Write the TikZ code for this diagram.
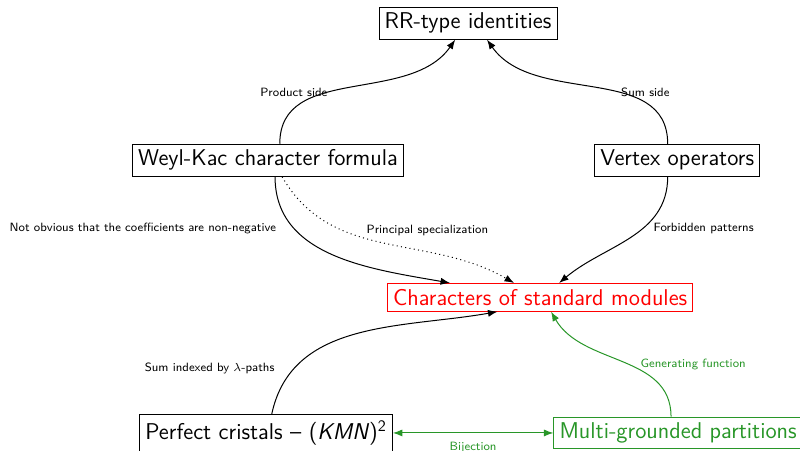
\documentclass[tikz,border=0pt]{standalone}
\usepackage{amsmath}
\usepackage{xcolor}
\usepackage{tikz}
\usetikzlibrary{arrows.meta, positioning, calc}
\renewcommand{\familydefault}{\sfdefault}
\definecolor{mgreen}{RGB}{40,150,40}
\tikzset{
    box/.style={draw, font=\fontsize{13.7}{16}\selectfont\sffamily, inner sep=3.4pt},
    lbl/.style={font=\fontsize{7.2}{9}\selectfont\sffamily, midway},
    gbox/.style={box, draw=mgreen, text=mgreen},
    rbox/.style={box, draw=red, text=red},
}

\begin{document}
\begin{tikzpicture}[>=Latex, semithick]
    \useasboundingbox (0,0) rectangle (16.87,-9.51);

    \node[box] (rr) at (9.87,-0.49) {RR-type identities};
    \node[box] (wk) at (5.65,-3.38) {Weyl-Kac character formula};
    \node[box] (vo) at (14.28,-3.38) {Vertex operators};
    \node[rbox] (chars) at (11.39,-6.27) {Characters of standard modules};
    \node[box] (pc) at (5.61,-9.13) {Perfect cristals -- (\textit{KMN})\textsuperscript{2}};
    \node[gbox] (mg) at (14.30,-9.13) {Multi-grounded partitions};

    % upper part
    \draw[->] ($(wk.north)+(0.25,0)$) to[out=90, in=-125]
        node[lbl, left=-5.5pt, pos=0.38] {Product side} ($(rr.south)+(-0.27,0)$);
    \draw[->] ($(vo.north)+(-0.2,0)$) to[out=90, in=-55]
        node[lbl, right=-4pt, pos=0.38] {Sum side} ($(rr.south)+(0.4,0)$);

    \draw[->] ($(wk.south)+(0.15,0)$) to[out=-90, in=170]
        node[lbl, left=7pt, pos=0.27] {Not obvious that the coefficients are non-negative} ($(chars.north)+(-1.9,0)$);
    \draw[->, dotted] ($(wk.south)+(0.3,0)$) to[out=-60, in=150]
        node[lbl, right=11pt, pos=0.32] {Principal specialization} ($(chars.north)+(-0.55,0)$);
    \draw[->] ($(vo.south)+(-0.2,0)$) to[out=-90, in=40]
        node[lbl, right=3pt, pos=0.4] {Forbidden patterns} ($(chars.north)+(0.4,0)$);

    % lower part
    \draw[->] ($(pc.north)+(0.12,0)$) to[out=78, in=190]
        node[lbl, left=8pt, pos=0.2] {Sum indexed by $\lambda$-paths} ($(chars.south)+(-0.9,0)$);
    \draw[->, mgreen] ($(mg.north)+(-0.15,0)$) to[out=90, in=-60]
        node[lbl, right=2.5pt, pos=0.45, text=mgreen] {Generating function} ($(chars.south)+(0.23,0)$);
    \draw[<->, mgreen] (pc) -- (mg)
        node[lbl, below=2pt, text=mgreen] {Bijection};
\end{tikzpicture}
\end{document}
